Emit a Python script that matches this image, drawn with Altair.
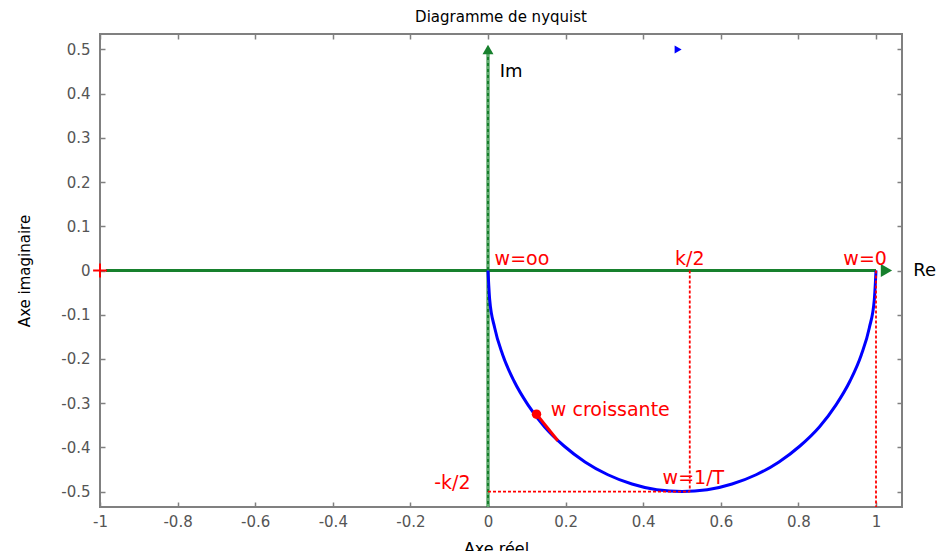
import altair as alt
import pandas as pd

# ---- data ----
X_DOMAIN = [-1.0, 1.067]
Y_DOMAIN = [-0.535, 0.535]
x_ticks = [-1, -0.8, -0.6, -0.4, -0.2, 0, 0.2, 0.4, 0.6, 0.8, 1]
y_ticks = [-0.5, -0.4, -0.3, -0.2, -0.1, 0, 0.1, 0.2, 0.3, 0.4, 0.5]

curve_re = [1.0, 0.9957, 0.983, 0.962, 0.933, 0.897, 0.854, 0.804, 0.75, 0.691, 0.629, 0.565, 0.5,
            0.435, 0.371, 0.309, 0.25, 0.196, 0.146, 0.103, 0.067, 0.038, 0.017, 0.0043, 0.0]
curve_im = [0.0, -0.0653, -0.129, -0.191, -0.25, -0.304, -0.354, -0.397, -0.433, -0.462, -0.483, -0.496, -0.5,
            -0.496, -0.483, -0.462, -0.433, -0.397, -0.354, -0.304, -0.25, -0.191, -0.129, -0.0653, 0.0]

arrow_re = [0.18, 0.125]
arrow_im = [-0.385, -0.325]

haxis_re = [-0.985, 1.0]
haxis_im = [0.0, 0.0]
vaxis_re = [0.0, 0.0]
vaxis_im = [-0.535, 0.49]

guide_x = [0.52, 0.0, 1.0]
guide_x2 = [0.52, 0.52, 1.0]
guide_y = [0.0, -0.5, 0.0]
guide_y2 = [-0.5, -0.5, -0.535]

red_left_text = ["w=oo", "w croissante", "w=1/T"]
red_left_x = [0.017, 0.162, 0.45]
red_left_y = [0.025, -0.316, -0.47]
red_center_text = ["k/2", "w=0"]
red_center_x = [0.52, 0.972]
red_center_y = [0.025, 0.025]
red_right_text = ["-k/2"]
red_right_x = [-0.045]
red_right_y = [-0.48]
black_text = ["Im", "Re"]
black_x = [0.03, 1.096]
black_y = [0.449, 0.0]

GREEN = "#17802d"
FONT = "DejaVu Sans"
W, H = 802, 473
LABEL_EXPR = "(datum.value < 0 ? '-' : '') + format(abs(datum.value), '~g')"

curve_df = pd.DataFrame({"re": curve_re, "im": curve_im, "i": list(range(len(curve_re)))})
arrow_df = pd.DataFrame({"re": arrow_re, "im": arrow_im})
hax_df = pd.DataFrame({"re": haxis_re, "im": haxis_im})
vax_df = pd.DataFrame({"re": vaxis_re, "im": vaxis_im})
guide_df = pd.DataFrame({"x": guide_x, "x2": guide_x2, "y": guide_y, "y2": guide_y2})

xs = alt.Scale(domain=X_DOMAIN, nice=False, zero=False)
ys = alt.Scale(domain=Y_DOMAIN, nice=False, zero=False)

tick_style = dict(labels=False, domain=False, ticks=True, tickSize=5, tickColor="#808080",
                  tickWidth=1.5, grid=False, title=None)

# blue Nyquist curve, carrying the labelled axes
curve = alt.Chart(curve_df).mark_line(color="#0000ff", strokeWidth=3, interpolate="monotone").encode(
    x=alt.X("re:Q", scale=xs, axis=alt.Axis(
        values=x_ticks, ticks=False, tickSize=0, domain=False, grid=False, labelPadding=7,
        labelFlush=False, labelFont=FONT, labelFontSize=15, labelColor="#555555",
        labelExpr=LABEL_EXPR,
        title="Axe réel", titleFont=FONT, titleFontSize=16, titleFontWeight="normal",
        titleColor="#000000", titleX=W / 2 - 5, titleY=33, titleBaseline="top")),
    y=alt.Y("im:Q", scale=ys, axis=alt.Axis(
        values=y_ticks, ticks=False, tickSize=0, domain=False, grid=False, labelPadding=10,
        labelFlush=False, labelFont=FONT, labelFontSize=15, labelColor="#555555",
        labelExpr=LABEL_EXPR,
        title="Axe imaginaire", titleFont=FONT, titleFontSize=15, titleFontWeight="normal",
        titleColor="#000000", titleX=-76, titleY=H / 2, titleBaseline="middle", titleAngle=-90)),
    order=alt.Order("i:Q"),
)

# green horizontal axis line (carries inside ticks on bottom / left edges)
hline = alt.Chart(hax_df).mark_line(color=GREEN, strokeWidth=3).encode(
    x=alt.X("re:Q", scale=xs, axis=alt.Axis(orient="top", offset=-H, values=x_ticks, **tick_style)),
    y=alt.Y("im:Q", scale=ys, axis=alt.Axis(orient="right", offset=-W, values=y_ticks, **tick_style)),
)
# green vertical axis line (carries inside ticks on top / right edges)
vline = alt.Chart(vax_df).mark_line(color=GREEN, strokeWidth=3).encode(
    x=alt.X("re:Q", scale=xs, axis=alt.Axis(orient="bottom", offset=-H, values=x_ticks, **tick_style)),
    y=alt.Y("im:Q", scale=ys, axis=alt.Axis(orient="left", offset=-W, values=y_ticks, **tick_style)),
)
vline_dash = alt.Chart(vax_df).mark_line(color="#a8d8b0", strokeWidth=1, strokeDash=[3, 3]).encode(
    x=alt.X("re:Q", scale=xs, axis=None), y=alt.Y("im:Q", scale=ys, axis=None))

heads_df = pd.DataFrame({"re": [1.027], "im": [0.0]})
hhead = alt.Chart(heads_df).mark_point(shape="triangle-right", filled=True, size=170,
                                       color=GREEN, opacity=1).encode(
    x=alt.X("re:Q", scale=xs, axis=None), y=alt.Y("im:Q", scale=ys, axis=None))
vhead_df = pd.DataFrame({"re": [0.0], "im": [0.5]})
vhead = alt.Chart(vhead_df).mark_point(shape="triangle-up", filled=True, size=120,
                                       color=GREEN, opacity=1).encode(
    x=alt.X("re:Q", scale=xs, axis=None), y=alt.Y("im:Q", scale=ys, axis=None))

guides = alt.Chart(guide_df).mark_rule(color="#ff0000", strokeWidth=1.8, strokeDash=[3, 2]).encode(
    x=alt.X("x:Q", scale=xs, axis=None), x2="x2:Q",
    y=alt.Y("y:Q", scale=ys, axis=None), y2="y2:Q")

arrow = alt.Chart(arrow_df).mark_line(color="#ff0000", strokeWidth=3).encode(
    x=alt.X("re:Q", scale=xs, axis=None), y=alt.Y("im:Q", scale=ys, axis=None))
dot_df = pd.DataFrame({"re": [arrow_re[1]], "im": [arrow_im[1]]})
dot = alt.Chart(dot_df).mark_point(shape="circle", filled=True, size=90, color="#ff0000", opacity=1).encode(
    x=alt.X("re:Q", scale=xs, axis=None), y=alt.Y("im:Q", scale=ys, axis=None))

plus_df = pd.DataFrame({"re": [-1.0], "im": [0.0]})
plus = alt.Chart(plus_df).mark_point(shape="M-1,0L1,0M0,-1L0,1", filled=False, size=190,
                                     color="#ff0000", strokeWidth=2, opacity=1).encode(
    x=alt.X("re:Q", scale=xs, axis=None), y=alt.Y("im:Q", scale=ys, axis=None))

blue_df = pd.DataFrame({"re": [0.49], "im": [0.5]})
blue_mark = alt.Chart(blue_df).mark_point(shape="triangle-right", filled=True, size=65,
                                          color="#0000ff", opacity=1).encode(
    x=alt.X("re:Q", scale=xs, axis=None), y=alt.Y("im:Q", scale=ys, axis=None))


def text_layer(texts, xv, yv, align, color, size):
    df = pd.DataFrame({"t": texts, "re": xv, "im": yv})
    return alt.Chart(df).mark_text(align=align, baseline="middle", color=color, fontSize=size,
                                   font=FONT).encode(
        x=alt.X("re:Q", scale=xs, axis=None), y=alt.Y("im:Q", scale=ys, axis=None), text="t:N")


t1 = text_layer(red_left_text, red_left_x, red_left_y, "left", "#ff0000", 19)
t2 = text_layer(red_center_text, red_center_x, red_center_y, "center", "#ff0000", 19)
t3 = text_layer(red_right_text, red_right_x, red_right_y, "right", "#ff0000", 19)
t4 = text_layer(black_text, black_x, black_y, "left", "#000000", 18)

chart = alt.layer(
    hline, vline, vline_dash, curve, guides, arrow, dot, hhead, vhead, plus, blue_mark,
    t1, t2, t3, t4
).resolve_axis(x="independent", y="independent").properties(
    width=W, height=H,
    title=alt.TitleParams("Diagramme de nyquist", font=FONT, fontSize=15, fontWeight="normal",
                          color="#000000", anchor="middle", offset=8),
    autosize=alt.AutoSizeParams(type="none"),
    padding={"left": 92, "top": 26, "right": 36, "bottom": 44},
).configure_view(stroke="#808080", strokeWidth=2)

chart.save("out.html", embed_options={"renderer": "svg", "actions": False})
